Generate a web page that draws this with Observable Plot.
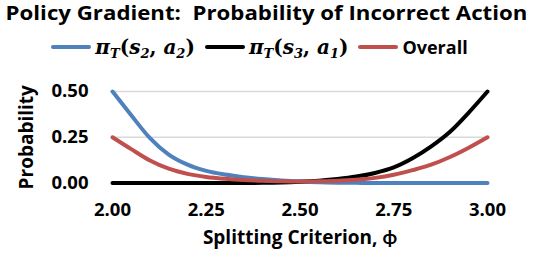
<!DOCTYPE html>
<html>
<head>
<meta charset="utf-8">
<script src="https://cdn.jsdelivr.net/npm/d3@7"></script>
<script src="https://cdn.jsdelivr.net/npm/@observablehq/plot@0.6"></script>
<style>
  html, body { margin: 0; padding: 0; background: #fff; }
  #wrap { position: relative; width: 533px; height: 262px; overflow: hidden; font-family: "Open Sans", Lato, sans-serif; font-weight: 700; color: #000; }
  #title { position: absolute; left: 0; top: 0; width: 533px; text-align: center; font-size: 19.5px; line-height: 26px; white-space: nowrap; transform: scaleX(1.14); transform-origin: 266.5px 0; }
  #legend { position: absolute; left: -7px; top: 33px; width: 533px; height: 28px; display: flex; justify-content: center; align-items: center; white-space: nowrap; }
  .item { display: flex; align-items: center; margin: 0 5px; }
  .sw { width: 40px; height: 4px; margin-right: 4px; border-radius: 2px; }
  .math { font-family: "DejaVu Serif", serif; font-size: 20px; font-weight: 700; }
  .math i { font-style: italic; }
  .math sub { font-size: 13px; font-style: italic; vertical-align: -4px; line-height: 0; }
  .txt { font-size: 18px; }
  #chart { position: absolute; left: 0; top: 62px; }
  #chart svg { overflow: visible; }
</style>
</head>
<body>
<div id="wrap">
  <div id="title">Policy Gradient:&nbsp; Probability of Incorrect Action</div>
  <div id="legend"></div>
  <div id="chart"></div>
</div>
<script>
const phi = [2.00, 2.05, 2.10, 2.15, 2.20, 2.25, 2.30, 2.35, 2.40, 2.45, 2.50, 2.55, 2.60, 2.65, 2.70, 2.75, 2.80, 2.85, 2.90, 2.95, 3.00];
const piS2A2 = [0.50, 0.37, 0.245, 0.155, 0.10, 0.066, 0.046, 0.032, 0.022, 0.014, 0.008, 0.004, 0.002, 0.001, 0, 0, 0, 0, 0, 0, 0];
const piS3A1 = [0, 0, 0, 0, 0, 0, 0, 0, 0.001, 0.003, 0.007, 0.013, 0.022, 0.035, 0.055, 0.085, 0.135, 0.20, 0.28, 0.385, 0.50];
const overall = [0.25, 0.185, 0.123, 0.078, 0.05, 0.033, 0.023, 0.016, 0.012, 0.009, 0.008, 0.009, 0.012, 0.018, 0.028, 0.045, 0.07, 0.10, 0.142, 0.193, 0.25];
const xTicks = [2.00, 2.25, 2.50, 2.75, 3.00];
const yTicks = [0.00, 0.25, 0.50];
const seriesNames = ["s2a2", "s3a1", "Overall"];
const seriesColors = ["#4F81BD", "#000000", "#C0504D"];
const seriesValues = [piS2A2, piS3A1, overall];
const legendHtml = [
  '<span class="math"><i>π</i><sub>T</sub>(<i>s</i><sub>2</sub>, <i>a</i><sub>2</sub>)</span>',
  '<span class="math"><i>π</i><sub>T</sub>(<i>s</i><sub>3</sub>, <i>a</i><sub>1</sub>)</span>',
  '<span class="txt">Overall</span>'
];

const data = [];
seriesNames.forEach((s, i) => phi.forEach((x, j) => data.push({series: s, x, y: seriesValues[i][j]})));

const legend = document.getElementById("legend");
seriesNames.forEach((s, i) => {
  const it = document.createElement("div");
  it.className = "item";
  it.innerHTML = `<div class="sw" style="background:${seriesColors[i]}"></div>${legendHtml[i]}`;
  legend.appendChild(it);
});

const chart = Plot.plot({
  width: 533,
  height: 200,
  marginLeft: 112,
  marginRight: 46,
  marginTop: 29,
  marginBottom: 79.5,
  style: {fontFamily: "'Open Sans', Lato, sans-serif", fontWeight: "700", fontSize: "18.5px", color: "#000", background: "#fff", overflow: "visible"},
  x: {domain: [2, 3]},
  y: {domain: [0, 0.5]},
  color: {domain: seriesNames, range: seriesColors},
  marks: [
    Plot.gridY(yTicks.filter(d => d > 0), {stroke: "#d9d9d9", strokeOpacity: 1, strokeWidth: 1.5}),
    Plot.axisY({ticks: yTicks, tickSize: 0, tickPadding: 24, tickFormat: d3.format(".2f"), label: null}),
    Plot.axisX({ticks: xTicks, tickSize: 0, tickPadding: 20, tickFormat: d3.format(".2f"), label: null}),
    Plot.line(data, {x: "x", y: "y", z: "series", stroke: "series", strokeWidth: 4, curve: "monotone-x", strokeLinecap: "round"}),
    Plot.text(["Probability"], {frameAnchor: "left", dx: -86, rotate: -90, textAnchor: "middle", fontSize: 19, fontWeight: 700, fill: "#000"}),
    Plot.text(["Splitting Criterion, ϕ"], {frameAnchor: "bottom", dy: 60.5, textAnchor: "middle", fontSize: 19, fontWeight: 700, fill: "#000"})
  ]
});
document.getElementById("chart").appendChild(chart);
</script>
</body>
</html>
